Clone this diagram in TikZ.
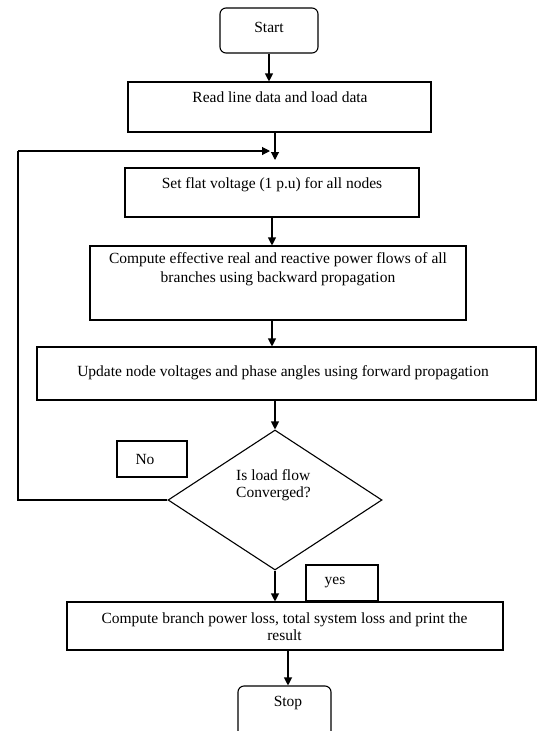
\documentclass[tikz,border=0pt]{standalone}
\usepackage{fontspec}
\setmainfont{Liberation Serif}
\usetikzlibrary{arrows.meta,shapes.geometric}
\begin{document}
\begin{tikzpicture}[x=1pt,y=-1pt,
  box/.style={draw, line width=1.1pt, rectangle, inner sep=0pt},
  term/.style={box, rounded corners=6pt},
  decision/.style={draw, line width=1.1pt, diamond, inner sep=0pt},
  txt/.style={font=\fontsize{15.5}{19}\selectfont, align=center, inner sep=0pt},
  flow/.style={draw, line width=1.1pt, -{Triangle[length=8pt,width=8pt]}},
  link/.style={draw, line width=1.1pt}]
\useasboundingbox (0,0) rectangle (537,731);

% boxes
\node[term, minimum width=98pt, minimum height=45pt] (start) at (269,30.5) {};
\node[box, minimum width=303pt, minimum height=50pt] (read) at (279.5,107) {};
\node[box, minimum width=294pt, minimum height=49pt] (set) at (272,192.5) {};
\node[box, minimum width=376pt, minimum height=74pt] (comp) at (278,283) {};
\node[box, minimum width=499pt, minimum height=53pt] (upd) at (286.5,373.5) {};
\node[decision, minimum width=214pt, minimum height=140pt] (dec) at (275,500) {};
\node[box, minimum width=70pt, minimum height=36pt] (no) at (152,459) {};
\node[box, minimum width=72pt, minimum height=36pt] (yes) at (342,583) {};
\node[box, minimum width=436pt, minimum height=48pt] (fin) at (285,626) {};
\node[term, minimum width=93pt, minimum height=54pt] (stop) at (284.5,713) {};

% texts
\node[txt] (starttxt) at (269,27) {Start};
\node[txt] (readtxt) at (280,97) {Read line data and load data};
\node[txt] (settxt) at (272,185) {Set flat voltage (1 p.u) for all nodes};
\node[txt] (comptxt) at (278,269.5) {Compute effective real and reactive power flows of all\\branches using backward propagation};
\node[txt] (updtxt) at (283,373) {Update node voltages and phase angles using forward propagation};
\node[txt, font=\fontsize{15.5}{17}\selectfont, align=left, anchor=west] (dectxt) at (236,485.5) {Is load flow\\Converged?};
\node[txt] (notxt) at (145,459) {No};
\node[txt] (yestxt) at (335,583) {yes};
\node[txt, font=\fontsize{15.5}{17}\selectfont] (fintxt) at (284.5,626.5) {Compute branch power loss, total system loss and print the\\result};
\node[txt] (stoptxt) at (288,703) {Stop};

% loop-back points
\coordinate (merge) at (275,160);
\coordinate (lb) at (18,500);
\coordinate (lt) at (18,151);
\coordinate (lend) at (270,151);

% connectors
\draw[flow] (start.south) -- (start.south |- read.north);
\draw[flow] (merge |- read.south) -- (merge);
\draw[flow] (set.south) -- (set.south |- comp.north);
\draw[flow] (comp.south -| set.south) -- (upd.north -| set.south);
\draw[flow] (upd.south -| dec.north) -- (dec.north);
\draw[link] (dec.west) -- (lb) -- (lt);
\draw[flow] (lt) -- (lend);
\draw[flow] (dec.south) -- (dec.south |- fin.north);
\draw[flow] (fin.south -| stoptxt) -- (stop.north -| stoptxt);
\end{tikzpicture}
\end{document}
